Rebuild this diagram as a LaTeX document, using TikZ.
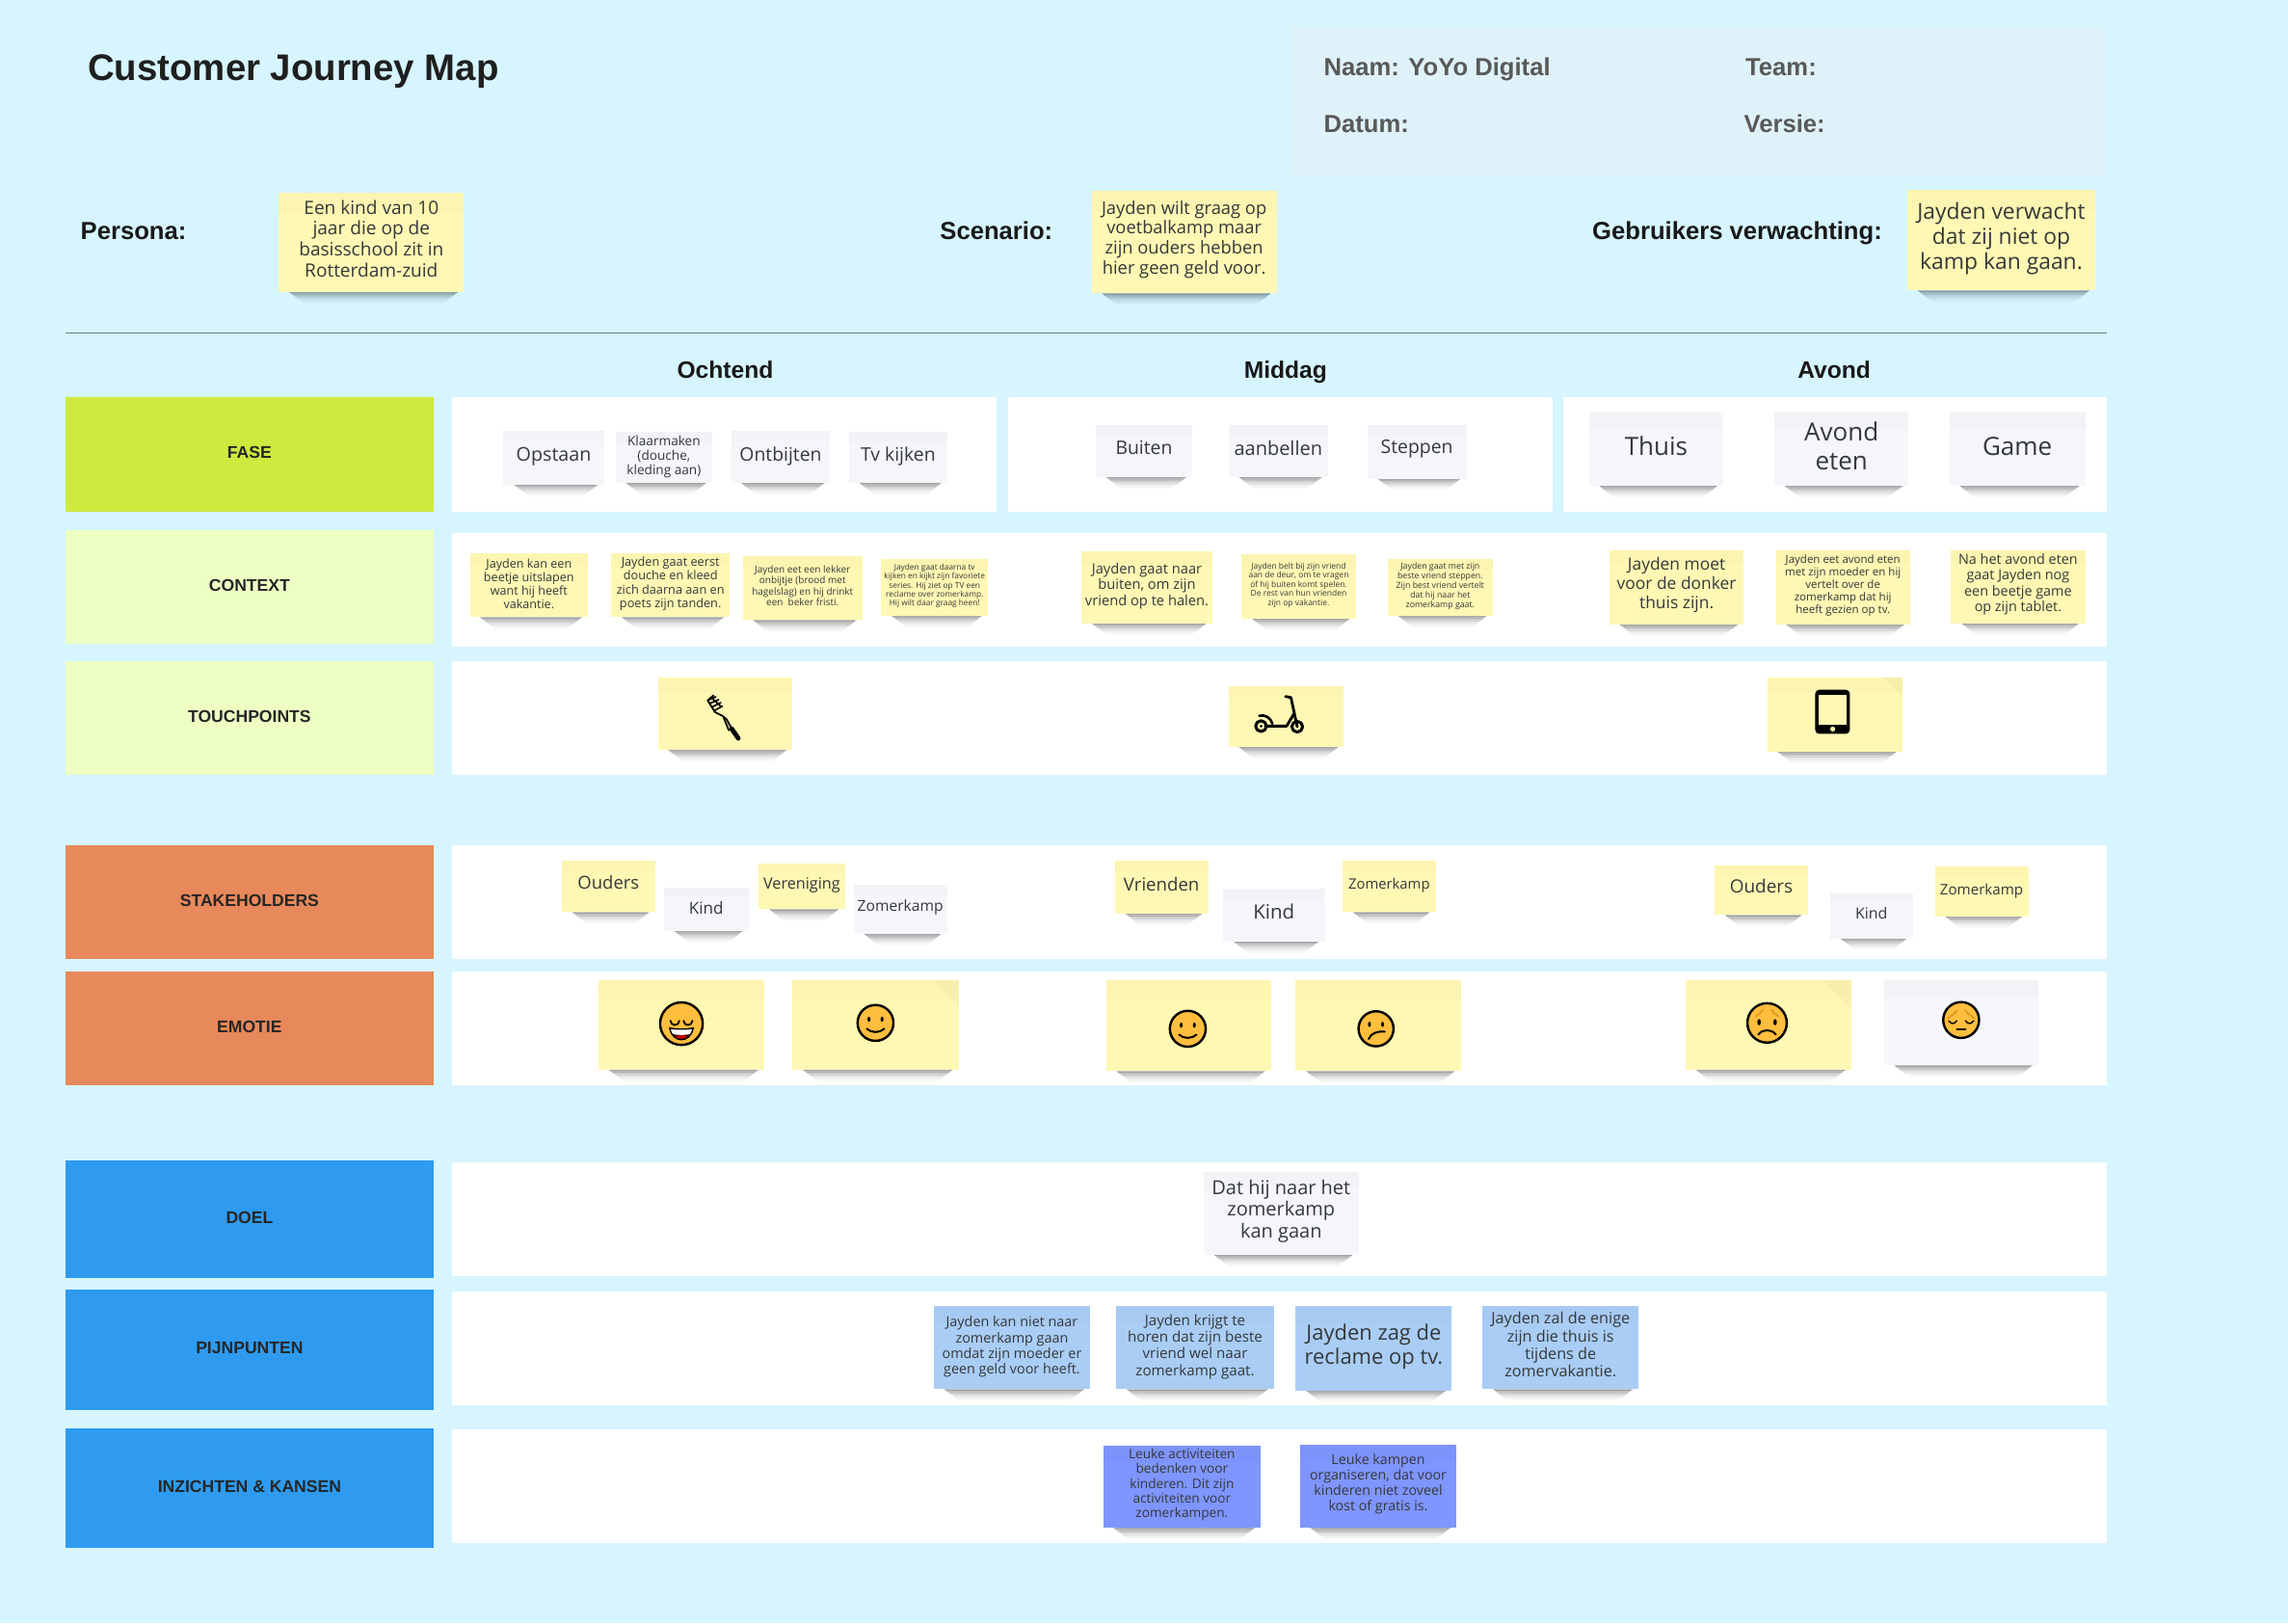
\documentclass[tikz,border=0pt]{standalone}
\usepackage{fontspec}
\setmainfont{Open Sans}
\newfontfamily\headf{Liberation Sans}
\definecolor{bgc}{HTML}{D6F5FF}
\definecolor{infoc}{HTML}{DFF2F9}
\definecolor{limec}{HTML}{D0E93F}
\definecolor{palec}{HTML}{EEFFC4}
\definecolor{orangec}{HTML}{E8895B}
\definecolor{bluec}{HTML}{2E9BF0}
\definecolor{yel}{HTML}{FFF8B4}
\definecolor{whi}{HTML}{F4F6F9}
\definecolor{blu}{HTML}{A9CDF5}
\definecolor{ind}{HTML}{7F95FF}
\definecolor{inkc}{HTML}{35383A}
\definecolor{facec}{HTML}{FFBE3D}
\definecolor{browc}{HTML}{E09A1E}
\tikzset{
  x=0.75pt,y=-0.75pt,
  panel/.style={fill=white,draw=none},
  rowlabel/.style={draw=none,text=black!85,inner sep=0pt,font=\headf\bfseries\fontsize{8.7}{11}\selectfont},
  headtext/.style={inner sep=0pt,text=black!90,font=\headf\bfseries\fontsize{12.7}{15}\selectfont},
  colhead/.style={anchor=base,inner sep=0pt,text=black!90,font=\headf\bfseries\fontsize{12.2}{15}\selectfont},
  infotext/.style={anchor=base west,inner sep=0pt,text=black!65,font=\headf\bfseries\fontsize{12.7}{15}\selectfont},
  notey/.style={fill=yel},
  notew/.style={fill=whi},
  noteb/.style={fill=blu},
  notei/.style={fill=ind},
  fold/.style={fill=black,opacity=0.025},
  ic/.style={line width=1.2pt,line cap=round,line join=round,draw=black},
}
% optional #1: how far the text sits above the centre of the note
\newcommand{\sticky}[9][1]{%
  \pgfmathsetmacro\stcx{(#3+#5)/2}%
  \pgfmathsetmacro\stcy{(#4+#6)/2-#1}%
  \pgfmathsetmacro\stf{#8*0.75}%
  \pgfmathsetmacro\stl{#8*0.75*1.13}%
  \foreach \shi/\sho in {0/.34,1/.27,2/.21,3/.15,4/.10,5/.065,6/.04,7/.02}{%
    \fill[black,opacity=\sho] (#3+7+\shi*1.3,#6+\shi) -- (#5-4-\shi*1.3,#6+\shi) -- (#5-4-\shi*1.3-1.3,#6+\shi+1) -- (#3+7+\shi*1.3+1.3,#6+\shi+1) -- cycle;
  }
  \fill[#7] (#3,#4) rectangle (#5,#6);
  \fill[black,opacity=0.01] (#3,#4) rectangle (#5,#4+0.2*#6-0.2*#4);
  \node[inner sep=0pt,align=center,text=inkc,font=\fontsize{\stf}{\stl}\selectfont] (#2) at (\stcx,\stcy) {#9};
}
\newcommand{\rowbar}[6]{%
  \pgfmathsetmacro\stcx{(45+297)/2}%
  \pgfmathsetmacro\stcy{(#3+#4)/2}%
  \fill[#2] (45,#3) rectangle (297,#4);
  \node[rowlabel] (#1) at (\stcx,\stcy-1) {#5};
  \fill[panel] (310,#6) rectangle (1444,#6+78);
}
\newcommand{\facebase}[3]{\fill[facec,draw=black,line width=1.2pt] (#1,#2) circle (#3);}
\begin{document}
\begin{tikzpicture}
\useasboundingbox (0,0) rectangle (1568,1112.3);
\fill[bgc] (0,0) rectangle (1568,1112.3);
\fill[infoc] (885,18) rectangle (1443,120);

\node[headtext,anchor=base west,text=black!88,font=\headf\bfseries\fontsize{19}{22}\selectfont] (title) at (60,55) {Customer Journey Map};
\node[infotext] (naam) at (907,52) {Naam: YoYo Digital};
\node[infotext] (team) at (1196,52) {Team:};
\node[infotext] (datum) at (907,91) {Datum:};
\node[infotext] (versie) at (1195,91) {Versie:};

\node[headtext,anchor=base west] (persona) at (55,164) {Persona:};
\node[headtext,anchor=base west] (scenario) at (644,164) {Scenario:};
\node[headtext,anchor=base west] (verw) at (1091,164) {Gebruikers verwachting:};

\sticky[2.5]{spersona}{191}{132}{318}{200}{notey}{12.6}{Een kind van 10\\jaar die op de\\basisschool zit in\\Rotterdam-zuid}
\sticky[2]{sscenario}{748}{131}{875}{201}{notey}{12.1}{Jayden wilt graag op\\voetbalkamp maar\\zijn ouders hebben\\hier geen geld voor.}
\sticky[1]{sverw}{1307}{130}{1436}{199}{notey}{15.1}{Jayden verwacht\\dat zij niet op\\kamp kan gaan.}

\draw[draw=black!50!bgc,line width=0.6pt] (45,228) -- (1444,228);

\node[colhead] (ochtend) at (497,259) {Ochtend};
\node[colhead] (middag) at (881,259) {Middag};
\node[colhead] (avond) at (1257,259) {Avond};

% rows
\fill[limec] (45,272) rectangle (297,351);
\node[rowlabel] (rfase) at (171,310) {FASE};
\fill[panel] (310,272) rectangle (683,351);
\fill[panel] (691,272) rectangle (1064,351);
\fill[panel] (1071,272) rectangle (1444,351);
\rowbar{rcontext}{palec}{363}{441}{CONTEXT}{365.5}
\rowbar{rtouch}{palec}{453}{531}{TOUCHPOINTS}{453}
\rowbar{rstake}{orangec}{579}{657}{STAKEHOLDERS}{579}
\rowbar{remotie}{orangec}{666}{744}{EMOTIE}{666}
\rowbar{rdoel}{bluec}{795}{876}{DOEL}{796.5}
\rowbar{rpijn}{bluec}{884}{966}{PIJNPUNTEN}{885}
\rowbar{rinz}{bluec}{979}{1061}{INZICHTEN \& KANSEN}{979.5}

% fase
\sticky[0.5]{f1}{345}{295}{414}{332}{notew}{13}{Opstaan}
\sticky[0.5]{f2}{422}{296}{488}{331}{notew}{9}{Klaarmaken\\(douche,\\kleding aan)}
\sticky[0.5]{f3}{501}{295}{569}{331}{notew}{12.8}{Ontbijten}
\sticky[0.5]{f4}{582}{296}{649}{331}{notew}{12.8}{Tv kijken}
\sticky[2]{f5}{751}{291}{817}{327}{notew}{12.8}{Buiten}
\sticky[2]{f6}{842}{291}{910}{327}{notew}{13.2}{aanbellen}
\sticky[2]{f7}{937}{291}{1005}{328}{notew}{12.8}{Steppen}
\sticky[2.5]{f8}{1089}{283}{1181}{333}{notew}{17.2}{Thuis}
\sticky[2.5]{f9}{1216}{283}{1308}{333}{notew}{17.2}{Avond\\eten}
\sticky[2]{f10}{1336}{283}{1429}{333}{notew}{17.2}{Game}

% context
\sticky{c1}{322}{379}{403}{423}{notey}{8.3}{Jayden kan een\\beetje uitslapen\\want hij heeft\\vakantie.}
\sticky{c2}{419}{379}{500}{423}{notey}{8.4}{Jayden gaat eerst\\douche en kleed\\zich daarna aan en\\poets zijn tanden.}
\sticky[1.5]{c3}{509}{381}{591}{425}{notey}{6.6}{Jayden eet een lekker\\onbijtje (brood met\\hagelslag) en hij drinkt\\een\ \ beker fristi.}
\sticky{c4}{604}{383}{677}{422}{notey}{5.5}{Jayden gaat daarna tv\\kijken en kijkt zijn favoriete\\series. Hij ziet op TV een\\reclame over zomerkamp.\\Hij wilt daar graag heen!}
\sticky{c5}{741}{378}{831}{427}{notey}{9.7}{Jayden gaat naar\\buiten, om zijn\\vriend op te halen.}
\sticky{c6}{851}{380}{929}{424}{notey}{5.6}{Jayden belt bij zijn vriend\\aan de deur, om te vragen\\of hij buiten komt spelen.\\De rest van hun vrienden\\zijn op vakantie.}
\sticky{c7}{951}{383}{1023}{422}{notey}{5.8}{Jayden gaat met zijn\\beste vriend steppen.\\Zijn best vriend vertelt\\dat hij naar het\\zomerkamp gaat.}
\sticky[1.5]{c8}{1103}{377}{1195}{428}{notey}{11.5}{Jayden moet\\voor de donker\\thuis zijn.}
\sticky{c9}{1217}{377}{1309}{428}{notey}{7.6}{Jayden eet avond eten\\met zijn moeder en hij\\vertelt over de\\zomerkamp dat hij\\heeft gezien op tv.}
\sticky[1.5]{c10}{1337}{377}{1429}{427}{notey}{9.5}{Na het avond eten\\gaat Jayden nog\\een beetje game\\op zijn tablet.}

% touchpoints
\sticky{t1}{451}{464}{543}{514}{notey}{10}{}
\sticky{t2}{842}{470}{921}{512}{notey}{10}{}
\sticky{t3}{1211}{464}{1304}{515}{notey}{10}{}
\fill[fold] (1290,464) -- (1304,464) -- (1304,477) -- cycle;
% toothbrush
\draw[ic,line width=2.4pt] (501.5,499.5) -- (506,506);
\draw[ic,line width=0.9pt] (501.5,499.5) -- (498,493) -- (495,490.5) -- (490,488) -- (485,480) -- (489,476.5);
\draw[ic,line width=0.9pt] (499.5,500.5) -- (496,492);
\draw[ic,line width=0.8pt] (487.5,478) -- (494,484) (485,480) -- (490.5,477.5) (486.5,482) -- (492.5,479.5) (488,484.5) -- (494,481.5) (489.5,487) -- (495,484);
% scooter
\draw[ic,line width=1.5pt] (864.2,497.6) circle (3.7);
\draw[ic,line width=1.5pt] (889,498) circle (3.7);
\fill[black] (864.2,497.6) circle (1) (889,498) circle (0.8);
\draw[ic,line width=1.4pt] (867,497.6) -- (881.7,497.6) -- (886.6,489.5);
\draw[ic,line width=1.4pt] (889,498) -- (884.7,478) -- (881,477.3);
\draw[ic,line width=1.3pt] (863,490.5) .. controls (867,489.5) and (871,492) .. (872,496);
% tablet
\fill[black,rounded corners=2pt] (1244,472.7) rectangle (1267.7,502.9);
\fill[yel] (1246.6,476.2) rectangle (1265.3,496.5);
\fill[yel] (1256,499.6) circle (1.7);

% stakeholders
\sticky[2.5]{s1}{385}{590}{449}{625}{notey}{12.2}{Ouders}
\sticky{s2}{455}{608}{513}{638}{notew}{11.3}{Kind}
\sticky{s3}{520}{592}{579}{623}{notey}{10.7}{Vereniging}
\sticky{s4}{585}{606}{649}{640}{notew}{10.3}{Zomerkamp}
\sticky[2]{s5}{764}{590}{828}{626}{notey}{12.3}{Vrienden}
\sticky[2]{s6}{838}{609}{908}{645}{notew}{13.5}{Kind}
\sticky[0.5]{s7}{920}{590}{984}{625}{notey}{9.8}{Zomerkamp}
\sticky[2.5]{s8}{1175}{593}{1239}{627}{notey}{12.5}{Ouders}
\sticky[2]{s9}{1254}{612}{1311}{643}{notew}{10.5}{Kind}
\sticky[0.5]{s10}{1326}{594}{1390}{628}{notey}{10}{Zomerkamp}

% emotie
\sticky{e1}{410}{672}{524}{733}{notey}{10}{}
\sticky{e2}{543}{672}{657}{733}{notey}{10}{}
\sticky{e3}{758}{672}{871}{734}{notey}{10}{}
\sticky{e4}{888}{672}{1001}{734}{notey}{10}{}
\sticky{e5}{1155}{672}{1269}{733}{notey}{10}{}
\sticky{e6}{1291}{672}{1397}{730}{notew}{10}{}
\fill[fold] (640,672) -- (657,672) -- (657,690) -- cycle;
\fill[fold] (1250,672) -- (1269,672) -- (1269,692) -- cycle;
% grin
\facebase{467}{701.5}{14.6}
\draw[ic,line width=0.9pt] (459.5,699.5) arc (180:0:3) (468.5,699.5) arc (180:0:3);
\fill[white,draw=black,line width=0.7pt] (459,704.5) .. controls (463,705.5) and (471,705.5) .. (475,704.5) .. controls (474,710.5) and (470,712.5) .. (467,712.5) .. controls (464,712.5) and (460,710.5) .. (459,704.5) -- cycle;
\fill[black!80!red] (460.5,708.5) .. controls (463,709.5) and (471,709.5) .. (473.5,708.5) .. controls (472,711) and (469,712.2) .. (467,712.2) .. controls (465,712.2) and (462,711) .. (460.5,708.5) -- cycle;
\fill[red!80!black] (463,710.5) .. controls (465,709) and (469,709) .. (471,710.5) .. controls (469,712.2) and (465,712.2) .. (463,710.5) -- cycle;
% smile 1
\facebase{600}{701}{12.3}
\fill[black] (595.5,698.5) ellipse (1 and 1.8) (604.5,698.5) ellipse (1 and 1.8);
\draw[ic,line width=1pt] (594,705) .. controls (597,708) and (603,708) .. (606,705);
% smile 2
\facebase{814}{705}{12.3}
\fill[black] (809.5,702.5) ellipse (1 and 1.8) (818.5,702.5) ellipse (1 and 1.8);
\draw[ic,line width=1pt] (808,709) .. controls (811,712) and (817,712) .. (820,709);
% confused
\facebase{943}{705}{12}
\fill[black] (938.5,702) ellipse (1 and 1.8) (947.5,702) ellipse (1 and 1.8);
\draw[ic,line width=1pt] (938,712) .. controls (939.5,708) and (944,706.5) .. (949,707);
% worried
\facebase{1211}{701}{13.5}
\draw[browc,line width=0.9pt,line cap=round] (1203,696.5) .. controls (1205,695.5) and (1207,694) .. (1208,692) (1219,696.5) .. controls (1217,695.5) and (1215,694) .. (1214,692);
\fill[black] (1205.5,700.5) ellipse (1.2 and 2.2) (1216.5,700.5) ellipse (1.2 and 2.2);
\draw[ic,line width=1pt] (1205,709) .. controls (1208,705) and (1214,705) .. (1217,709);
% sad
\facebase{1344}{699}{12.3}
\draw[browc,line width=0.9pt,line cap=round] (1335,698) .. controls (1337,695.5) and (1340,695) .. (1341,692.5) (1353,698) .. controls (1351,695.5) and (1348,695) .. (1347,692.5);
\draw[ic,line width=0.7pt] (1335.5,699.5) .. controls (1337,702) and (1339.5,702) .. (1341,699.5) (1347,699.5) .. controls (1348.5,702) and (1351,702) .. (1352.5,699.5);
\draw[ic,line width=1pt] (1341,705.5) -- (1347,705.5);

% doel
\sticky[1.5]{d1}{825}{803}{931}{860}{notew}{13.2}{Dat hij naar het\\zomerkamp\\kan gaan}

% pijnpunten
\sticky[0.5]{p1}{640}{895}{747}{952}{noteb}{9.5}{Jayden kan niet naar\\zomerkamp gaan\\omdat zijn moeder er\\geen geld voor heeft.}
\sticky[0.5]{p2}{765}{895}{873}{952}{noteb}{10}{Jayden krijgt te\\horen dat zijn beste\\vriend wel naar\\zomerkamp gaat.}
\sticky[1]{p3}{888}{895}{995}{953}{noteb}{14.5}{Jayden zag de\\reclame op tv.}
\sticky[2]{p4}{1016}{895}{1123}{952}{noteb}{10.7}{Jayden zal de enige\\zijn die thuis is\\tijdens de\\zomervakantie.}

% inzichten
\sticky[1.5]{i1}{756}{991}{864}{1047}{notei}{9}{Leuke activiteiten\\bedenken voor\\kinderen. Dit zijn\\activiteiten voor\\zomerkampen.}
\sticky[1.5]{i2}{891}{990}{998}{1047}{notei}{9.4}{Leuke kampen\\organiseren, dat voor\\kinderen niet zoveel\\kost of gratis is.}
\end{tikzpicture}
\end{document}
